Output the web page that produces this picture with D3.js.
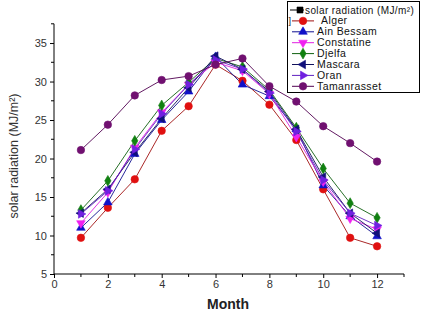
<!DOCTYPE html>
<html><head><meta charset="utf-8">
<script src="https://cdn.jsdelivr.net/npm/d3@7"></script>
<style>body{margin:0;background:#fff}svg{display:block}</style>
</head><body><svg id="c" width="421" height="316"></svg>
<script>
const months = [1,2,3,4,5,6,7,8,9,10,11,12];
const seriesNames = ["Alger","Ain Bessam","Constatine","Djelfa","Mascara","Oran","Tamanrasset"];
const alger       = [9.7,13.6,17.3,23.6,26.8,32.2,30.1,27.0,22.4,16.0,9.7,8.6];
const ainBessam   = [11.0,14.3,20.6,25.0,28.7,33.2,29.6,28.1,23.8,16.5,12.5,9.9];
const constatine  = [11.6,15.6,21.4,26.0,29.6,32.5,31.4,28.4,22.8,17.0,12.2,10.8];
const djelfa      = [13.3,17.1,22.3,26.9,29.9,33.0,31.9,28.9,24.0,18.7,14.2,12.3];
const mascara     = [12.9,16.0,20.8,25.2,29.2,33.3,31.6,28.7,23.8,17.6,12.9,10.3];
const oran        = [12.8,15.8,21.2,25.8,29.6,32.8,31.6,28.5,23.5,17.2,12.9,11.3];
const tamanrasset = [21.1,24.4,28.2,30.2,30.7,32.2,33.0,29.4,27.4,24.2,22.0,19.6];
const xTicks = [0,2,4,6,8,10,12];
const yTicks = [5,10,15,20,25,30,35];
const legendHeader = "solar radiation (MJ/m²)";

const colors = ["#e01010","#1010c8","#f020f0","#108010","#10107a","#7020e0","#701070"];
const lineColors = ["#a01010","#101090","#e020e0","#106010","#10105a","#6020c0","#500050"];
const shapes = ["circle","tri","triDown","diamond","triLeft","triRight","circle"];
const data = [alger,ainBessam,constatine,djelfa,mascara,oran,tamanrasset];

const svg = d3.select("#c");
const x = d3.scaleLinear().domain([0,13]).range([54,404]);
const y = d3.scaleLinear().domain([5,37.5]).range([274,23.8]);

function markerPath(shape){
  if(shape==="circle") return d3.symbol(d3.symbolCircle, 44)();
  if(shape==="diamond") return d3.symbol(d3.symbolDiamond, 34)();
  return d3.symbol(d3.symbolTriangle, 32)();
}
function rot(shape){
  return {triDown:180, triLeft:-90, triRight:90}[shape] || 0;
}

const font = "Arial, 'Liberation Sans', sans-serif";
const xAxis = d3.axisBottom(x).tickValues(xTicks).tickSize(4).tickPadding(2);
const gx = svg.append("g").attr("transform","translate(0,274)").call(xAxis);
gx.append("g").selectAll("line").data(d3.range(1,14,2)).join("line")
  .attr("x1",d=>x(d)).attr("x2",d=>x(d)).attr("y1",0).attr("y2",3).attr("stroke","#000");
const yAxis = d3.axisLeft(y).tickValues(yTicks).tickSize(4).tickPadding(3);
const gy = svg.append("g").attr("transform","translate(54,0)").call(yAxis);
gy.append("g").selectAll("line").data([7.5,12.5,17.5,22.5,27.5,32.5,37.5]).join("line")
  .attr("x1",0).attr("x2",-3).attr("y1",d=>y(d)).attr("y2",d=>y(d)).attr("stroke","#000");
[gx,gy].forEach(g=>{
  g.select(".domain").attr("d", g===gx ? `M${x(0)},0H${x(13)}` : `M0,${y(5)}V${y(37.5)}`).attr("stroke","#000");
  g.selectAll("text").attr("font-family",font).attr("font-size","11px").attr("fill","#333");
});

data.forEach((vals,i)=>{
  const pts = months.map((m,j)=>[m,vals[j]]);
  svg.append("path").datum(pts)
    .attr("d", d3.line().x(d=>x(d[0])).y(d=>y(d[1])))
    .attr("fill","none").attr("stroke",lineColors[i]).attr("stroke-width",0.9);
});
data.forEach((vals,i)=>{
  const pts = months.map((m,j)=>[m,vals[j]]);
  svg.append("g").selectAll("path").data(pts).join("path")
    .attr("d", markerPath(shapes[i]))
    .attr("transform", d=>`translate(${x(d[0])},${y(d[1])}) rotate(${rot(shapes[i])})`)
    .attr("fill",colors[i]).attr("stroke",colors[i]).attr("stroke-width",0.6);
});

svg.append("text").attr("x",228).attr("y",309).attr("text-anchor","middle")
  .attr("font-family",font).attr("font-weight","bold").attr("font-size","14px").attr("fill","#222").text("Month");
svg.append("text").attr("transform","translate(18,156) rotate(-90)").attr("text-anchor","middle")
  .attr("font-family",font).attr("font-size","12.5px").attr("fill","#333").text("solar radiation (MJ/m²)");

const lg = svg.append("g");
lg.append("rect").attr("x",287.5).attr("y",1.5).attr("width",132).attr("height",91)
  .attr("fill","#fff").attr("stroke","#000").attr("stroke-width",1);
const rowY = i => 10 + i*10.9;
const entries = [{name:legendHeader,color:"#000",line:"#000",shape:"square"}]
  .concat(seriesNames.map((n,i)=>({name:n,color:colors[i],line:lineColors[i],shape:shapes[i]})));
entries.forEach((e,i)=>{
  const yy = rowY(i);
  lg.append("line").attr("x1",i===0?290:292).attr("x2",i===0?304:314).attr("y1",yy).attr("y2",yy).attr("stroke",e.line).attr("stroke-width",1);
  lg.append("path")
    .attr("d", e.shape==="square" ? d3.symbol(d3.symbolSquare,36)() : markerPath(e.shape))
    .attr("transform",`translate(${i===0?300:303},${yy}) rotate(${rot(e.shape)})`)
    .attr("fill",e.color).attr("stroke",e.color).attr("stroke-width",0.6);
  lg.append("text").attr("x", i===0 ? 305 : (i===1 ? 321 : 317)).attr("y",yy+3.5)
    .attr("font-family",font).attr("font-size", i===0 ? "10px" : "10.5px")
    .attr("letter-spacing", "0.4px").attr("fill","#111").text(e.name);
});
lg.append("text").attr("x",288.5).attr("y",rowY(1)+3.5).attr("font-family",font).attr("font-size","9px").attr("fill","#111").text("]");
</script></body></html>
